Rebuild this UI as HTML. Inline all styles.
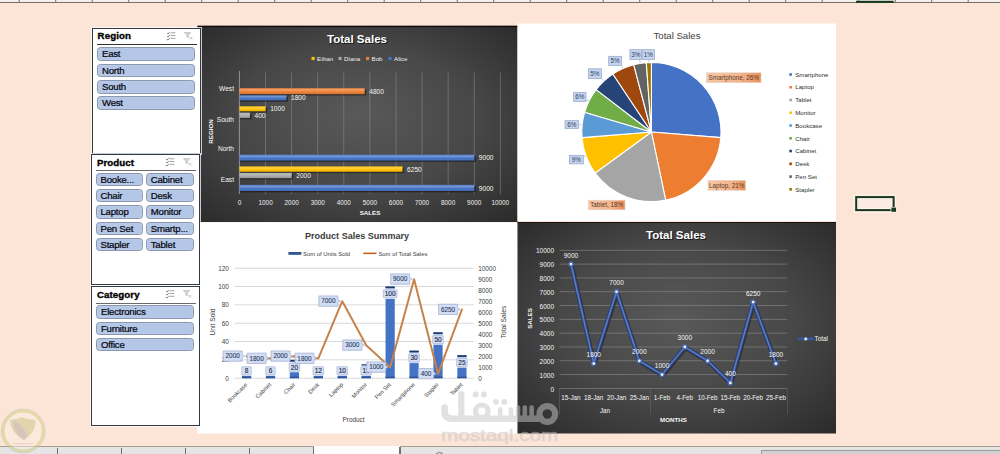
<!DOCTYPE html><html><head><meta charset="utf-8"><title>Dashboard</title><style>
html,body{margin:0;padding:0;}body{width:1000px;height:454px;overflow:hidden;background:#fce4d6;position:relative;font-family:"Liberation Sans", sans-serif;}
.abs{position:absolute;}
.sl{position:absolute;background:#fff;border:1.5px solid #2f3a45;box-sizing:border-box;z-index:2;box-shadow:0 0 0 1px rgba(255,255,255,0.75);}
.sl .t{position:absolute;left:4.6px;top:1.4px;font-weight:bold;font-size:9.7px;color:#000;-webkit-text-stroke:0.35px #000;letter-spacing:0.1px;}
.sl .u{position:absolute;left:4px;right:3px;height:1.4px;background:#333;}
.btn{position:absolute;z-index:3;box-sizing:border-box;background:#b4c7e7;border:1px solid #8a97ad;border-radius:3.5px;font-size:9.6px;line-height:11.6px;padding-left:3.8px;letter-spacing:-0.22px;color:#05050c;-webkit-text-stroke:0.22px #05050c;white-space:nowrap;overflow:hidden;box-shadow:inset 0 0 1px #dfe8f7;}
svg{position:absolute;left:0;top:0;}
svg text{font-family:"Liberation Sans", sans-serif;}
</style></head><body>
<div class="abs" style="left:0;top:0;width:1000px;height:3px;background:#f3efea;border-bottom:1px solid #7a7068;box-sizing:border-box"></div>
<div class="abs" style="left:0;top:446px;width:1000px;height:8px;background:#e5e5e5;border-top:1.2px solid #a79c91;box-sizing:border-box"></div>
<div class="abs" style="left:313.6px;top:446px;width:86.4px;height:8px;background:#fdfdfd;"></div>
<div class="abs" style="left:56.6px;top:448.2px;width:1.3px;height:6px;background:#6e6e6e;"></div>
<div class="abs" style="left:120.8px;top:448.2px;width:1.3px;height:6px;background:#6e6e6e;"></div>
<div class="abs" style="left:185px;top:448.2px;width:1.3px;height:6px;background:#6e6e6e;"></div>
<div class="abs" style="left:248.8px;top:448.2px;width:1.3px;height:6px;background:#6e6e6e;"></div>
<div class="abs" style="left:312.8px;top:447px;width:1.2px;height:7px;background:#707070;"></div>
<div class="abs" style="left:399.4px;top:447px;width:1.2px;height:7px;background:#707070;"></div>
<div class="abs" style="left:434.5px;top:451.6px;width:9px;height:9px;border:1px solid #777;border-radius:50%;box-sizing:border-box"></div>
<div class="abs" style="left:761px;top:449.5px;width:239px;height:5px;background:#d2d2d2;border-top:1px solid #9a9a9a;border-left:1px solid #9a9a9a"></div>
<div class="sl" style="left:92px;top:27.5px;width:108.5px;height:126px"><div class="t" style="top:1.4px">Region</div><div class="u" style="top:15.3px;background:#333"></div><svg style="left:73px;top:1.2px" width="30" height="12" viewBox="0 0 30 12"><g fill="none"><path d="M0.9 3.2L2.1 4L3.9 1.8M0.9 6.2L2.1 7L3.9 4.8M0.5 9.4L2.1 10L3.9 7.8" stroke="#8a8a8a" stroke-width="1"/><path d="M4.6 2.8H9.4M4.6 5.5H9.4M4.6 8.3H9.4" stroke="#a2a2a2" stroke-width="1"/></g><g stroke="#c4c4c4" stroke-width="0.9" fill="none"><path d="M18.3 2.6H24.7L22.4 5V7.4H21V5Z" fill="#d6d6d6"/><path d="M23.6 6.8L26.3 9.6M26.3 6.8L23.6 9.6"/></g></svg></div>
<div class="btn" style="left:97.2px;top:47.2px;width:97.8px;height:13.5px">East</div>
<div class="btn" style="left:97.2px;top:63.6px;width:97.8px;height:13.5px">North</div>
<div class="btn" style="left:97.2px;top:80px;width:97.8px;height:13.5px">South</div>
<div class="btn" style="left:97.2px;top:96.4px;width:97.8px;height:13.5px">West</div>
<div class="sl" style="left:91.3px;top:154.3px;width:108.5px;height:130.7px"><div class="t" style="top:1.4px">Product</div><div class="u" style="top:14.3px;background:#6a6a6a"></div><svg style="left:73px;top:1.2px" width="30" height="12" viewBox="0 0 30 12"><g fill="none"><path d="M0.9 3.2L2.1 4L3.9 1.8M0.9 6.2L2.1 7L3.9 4.8M0.5 9.4L2.1 10L3.9 7.8" stroke="#8a8a8a" stroke-width="1"/><path d="M4.6 2.8H9.4M4.6 5.5H9.4M4.6 8.3H9.4" stroke="#a2a2a2" stroke-width="1"/></g><g stroke="#c4c4c4" stroke-width="0.9" fill="none"><path d="M18.3 2.6H24.7L22.4 5V7.4H21V5Z" fill="#d6d6d6"/><path d="M23.6 6.8L26.3 9.6M26.3 6.8L23.6 9.6"/></g></svg></div>
<div class="btn" style="left:95.7px;top:172.5px;width:47.7px;height:13.5px">Booke...</div>
<div class="btn" style="left:146px;top:172.5px;width:47.5px;height:13.5px">Cabinet</div>
<div class="btn" style="left:95.7px;top:188.85px;width:47.7px;height:13.5px">Chair</div>
<div class="btn" style="left:146px;top:188.85px;width:47.5px;height:13.5px">Desk</div>
<div class="btn" style="left:95.7px;top:205.2px;width:47.7px;height:13.5px">Laptop</div>
<div class="btn" style="left:146px;top:205.2px;width:47.5px;height:13.5px">Monitor</div>
<div class="btn" style="left:95.7px;top:221.55px;width:47.7px;height:13.5px">Pen Set</div>
<div class="btn" style="left:146px;top:221.55px;width:47.5px;height:13.5px">Smartp...</div>
<div class="btn" style="left:95.7px;top:237.9px;width:47.7px;height:13.5px">Stapler</div>
<div class="btn" style="left:146px;top:237.9px;width:47.5px;height:13.5px">Tablet</div>
<div class="sl" style="left:91.3px;top:285.6px;width:108.9px;height:140.4px"><div class="t" style="top:2.5px">Category</div><div class="u" style="top:16px;background:#6a6a6a"></div><svg style="left:73px;top:1.2px" width="30" height="12" viewBox="0 0 30 12"><g fill="none"><path d="M0.9 3.2L2.1 4L3.9 1.8M0.9 6.2L2.1 7L3.9 4.8M0.5 9.4L2.1 10L3.9 7.8" stroke="#8a8a8a" stroke-width="1"/><path d="M4.6 2.8H9.4M4.6 5.5H9.4M4.6 8.3H9.4" stroke="#a2a2a2" stroke-width="1"/></g><g stroke="#c4c4c4" stroke-width="0.9" fill="none"><path d="M18.3 2.6H24.7L22.4 5V7.4H21V5Z" fill="#d6d6d6"/><path d="M23.6 6.8L26.3 9.6M26.3 6.8L23.6 9.6"/></g></svg></div>
<div class="btn" style="left:96.2px;top:305.2px;width:98px;height:13.5px">Electronics</div>
<div class="btn" style="left:96.2px;top:321.55px;width:98px;height:13.5px">Furniture</div>
<div class="btn" style="left:96.2px;top:337.9px;width:98px;height:13.5px">Office</div>
<svg width="1000" height="454" viewBox="0 0 1000 454">
<defs>
<radialGradient id="dk" cx="50%" cy="50%" r="75%" fx="50%" fy="45%">
<stop offset="0" stop-color="#595959"/><stop offset="0.5" stop-color="#474747"/><stop offset="1" stop-color="#272727"/></radialGradient>
<linearGradient id="dk2" x1="0" y1="0" x2="0" y2="1">
<stop offset="0" stop-color="#2d2d2d"/><stop offset="0.5" stop-color="#4a4a4a"/><stop offset="1" stop-color="#2a2a2a"/></linearGradient>
<linearGradient id="olab" x1="0" y1="0" x2="1" y2="0">
<stop offset="0" stop-color="#f6c7a6"/><stop offset="0.6" stop-color="#f3b58d"/><stop offset="1" stop-color="#e98f58"/></linearGradient>
<linearGradient id="hl" x1="0" y1="0" x2="0" y2="1"><stop offset="0" stop-color="#fff" stop-opacity="0.05"/><stop offset="0.3" stop-color="#fff" stop-opacity="0.28"/><stop offset="0.6" stop-color="#fff" stop-opacity="0"/><stop offset="1" stop-color="#000" stop-opacity="0.18"/></linearGradient>
</defs>
<rect x="18.7" y="0" width="1" height="3" fill="#7a7068"/>
<rect x="55.2" y="0" width="1" height="3" fill="#7a7068"/>
<rect x="91.7" y="0" width="1" height="3" fill="#7a7068"/>
<rect x="128.2" y="0" width="1" height="3" fill="#7a7068"/>
<rect x="164.7" y="0" width="1" height="3" fill="#7a7068"/>
<rect x="201.2" y="0" width="1" height="3" fill="#7a7068"/>
<rect x="237.7" y="0" width="1" height="3" fill="#7a7068"/>
<rect x="274.2" y="0" width="1" height="3" fill="#7a7068"/>
<rect x="310.7" y="0" width="1" height="3" fill="#7a7068"/>
<rect x="347.2" y="0" width="1" height="3" fill="#7a7068"/>
<rect x="383.7" y="0" width="1" height="3" fill="#7a7068"/>
<rect x="420.2" y="0" width="1" height="3" fill="#7a7068"/>
<rect x="456.7" y="0" width="1" height="3" fill="#7a7068"/>
<rect x="493.2" y="0" width="1" height="3" fill="#7a7068"/>
<rect x="529.7" y="0" width="1" height="3" fill="#7a7068"/>
<rect x="566.2" y="0" width="1" height="3" fill="#7a7068"/>
<rect x="602.7" y="0" width="1" height="3" fill="#7a7068"/>
<rect x="639.2" y="0" width="1" height="3" fill="#7a7068"/>
<rect x="675.7" y="0" width="1" height="3" fill="#7a7068"/>
<rect x="712.2" y="0" width="1" height="3" fill="#7a7068"/>
<rect x="748.7" y="0" width="1" height="3" fill="#7a7068"/>
<rect x="785.2" y="0" width="1" height="3" fill="#7a7068"/>
<rect x="821.7" y="0" width="1" height="3" fill="#7a7068"/>
<rect x="858.2" y="0" width="1" height="3" fill="#7a7068"/>
<rect x="894.7" y="0" width="1" height="3" fill="#7a7068"/>
<rect x="931.2" y="0" width="1" height="3" fill="#7a7068"/>
<rect x="967.7" y="0" width="1" height="3" fill="#7a7068"/>
<rect x="856" y="0.8" width="37.6" height="2.1" fill="#153a1d"/>
<rect x="197.5" y="25.8" width="320" height="196.2" fill="url(#dk)"/>
<rect x="197.5" y="25.8" width="320" height="1.3" fill="#0c0c0c"/>
<text x="358" y="44" font-size="11.5" font-weight="bold" fill="#111" opacity="0.8" text-anchor="middle">Total Sales</text>
<text x="357" y="43" font-size="11.5" font-weight="bold" fill="#fff" text-anchor="middle">Total Sales</text>
<rect x="311.5" y="56.9" width="3.2" height="3.2" fill="#ffc000"/>
<text x="317.1" y="60.9" font-size="6.15" fill="#f0f0f0">Ethan</text>
<rect x="338.5" y="56.9" width="3.2" height="3.2" fill="#a5a5a5"/>
<text x="344.1" y="60.9" font-size="6.15" fill="#f0f0f0">Diana</text>
<rect x="366" y="56.9" width="3.2" height="3.2" fill="#ed7d31"/>
<text x="371.6" y="60.9" font-size="6.15" fill="#f0f0f0">Bob</text>
<rect x="388.5" y="56.9" width="3.2" height="3.2" fill="#4472c4"/>
<text x="394.1" y="60.9" font-size="6.15" fill="#f0f0f0">Alice</text>
<rect x="265.18" y="72.5" width="0.8" height="121.5" fill="#9a9a9a" opacity="0.55"/>
<rect x="291.26" y="72.5" width="0.8" height="121.5" fill="#9a9a9a" opacity="0.55"/>
<rect x="317.34" y="72.5" width="0.8" height="121.5" fill="#9a9a9a" opacity="0.55"/>
<rect x="343.42" y="72.5" width="0.8" height="121.5" fill="#9a9a9a" opacity="0.55"/>
<rect x="369.5" y="72.5" width="0.8" height="121.5" fill="#9a9a9a" opacity="0.55"/>
<rect x="395.58" y="72.5" width="0.8" height="121.5" fill="#9a9a9a" opacity="0.55"/>
<rect x="421.66" y="72.5" width="0.8" height="121.5" fill="#9a9a9a" opacity="0.55"/>
<rect x="447.74" y="72.5" width="0.8" height="121.5" fill="#9a9a9a" opacity="0.55"/>
<rect x="473.82" y="72.5" width="0.8" height="121.5" fill="#9a9a9a" opacity="0.55"/>
<rect x="499.9" y="72.5" width="0.8" height="121.5" fill="#9a9a9a" opacity="0.55"/>
<rect x="238.9" y="71" width="1" height="123" fill="#a8a8a8" opacity="0.8"/>
<rect x="240.3" y="89.5" width="125.984" height="6" fill="#111" opacity="0.55"/>
<rect x="239.5" y="88.2" width="125.184" height="6" fill="#ed7d31"/>
<rect x="239.5" y="88.2" width="125.184" height="6" fill="url(#hl)"/>
<text x="369.284" y="93.8" font-size="6.6" fill="#f6f6f6">4800</text>
<rect x="240.3" y="96.5" width="47.744" height="5.2" fill="#111" opacity="0.55"/>
<rect x="239.5" y="95.2" width="46.944" height="5.2" fill="#4472c4"/>
<rect x="239.5" y="95.2" width="46.944" height="5.2" fill="url(#hl)"/>
<text x="291.044" y="100.4" font-size="6.6" fill="#f6f6f6">1800</text>
<rect x="240.3" y="107.6" width="26.88" height="5" fill="#111" opacity="0.55"/>
<rect x="239.5" y="106.3" width="26.08" height="5" fill="#ffc000"/>
<rect x="239.5" y="106.3" width="26.08" height="5" fill="url(#hl)"/>
<text x="270.18" y="111.4" font-size="6.6" fill="#f6f6f6">1000</text>
<rect x="240.3" y="113.9" width="11.232" height="5.4" fill="#111" opacity="0.55"/>
<rect x="239.5" y="112.6" width="10.432" height="5.4" fill="#a5a5a5"/>
<rect x="239.5" y="112.6" width="10.432" height="5.4" fill="url(#hl)"/>
<text x="254.532" y="117.9" font-size="6.6" fill="#f6f6f6">400</text>
<rect x="240.3" y="155.9" width="235.52" height="6" fill="#111" opacity="0.55"/>
<rect x="239.5" y="154.6" width="234.72" height="6" fill="#4472c4"/>
<rect x="239.5" y="154.6" width="234.72" height="6" fill="url(#hl)"/>
<text x="478.82" y="160.2" font-size="6.6" fill="#f6f6f6">9000</text>
<rect x="240.3" y="167.7" width="163.8" height="5.4" fill="#111" opacity="0.55"/>
<rect x="239.5" y="166.4" width="163" height="5.4" fill="#ffc000"/>
<rect x="239.5" y="166.4" width="163" height="5.4" fill="url(#hl)"/>
<text x="407.1" y="171.7" font-size="6.6" fill="#f6f6f6">6250</text>
<rect x="240.3" y="174.1" width="52.96" height="5.4" fill="#111" opacity="0.55"/>
<rect x="239.5" y="172.8" width="52.16" height="5.4" fill="#a5a5a5"/>
<rect x="239.5" y="172.8" width="52.16" height="5.4" fill="url(#hl)"/>
<text x="296.26" y="178.1" font-size="6.6" fill="#f6f6f6">2000</text>
<rect x="240.3" y="186.1" width="235.52" height="6.2" fill="#111" opacity="0.55"/>
<rect x="239.5" y="184.8" width="234.72" height="6.2" fill="#4472c4"/>
<rect x="239.5" y="184.8" width="234.72" height="6.2" fill="url(#hl)"/>
<text x="478.82" y="190.5" font-size="6.6" fill="#f6f6f6">9000</text>
<text x="234" y="90.5" font-size="6.6" fill="#f6f6f6" text-anchor="end">West</text>
<text x="234" y="121.6" font-size="6.6" fill="#f6f6f6" text-anchor="end">South</text>
<text x="234" y="150.9" font-size="6.6" fill="#f6f6f6" text-anchor="end">North</text>
<text x="234" y="181.5" font-size="6.6" fill="#f6f6f6" text-anchor="end">East</text>
<text x="239.5" y="205" font-size="6.4" fill="#f0f0f0" text-anchor="middle">0</text>
<text x="265.58" y="205" font-size="6.4" fill="#f0f0f0" text-anchor="middle">1000</text>
<text x="291.66" y="205" font-size="6.4" fill="#f0f0f0" text-anchor="middle">2000</text>
<text x="317.74" y="205" font-size="6.4" fill="#f0f0f0" text-anchor="middle">3000</text>
<text x="343.82" y="205" font-size="6.4" fill="#f0f0f0" text-anchor="middle">4000</text>
<text x="369.9" y="205" font-size="6.4" fill="#f0f0f0" text-anchor="middle">5000</text>
<text x="395.98" y="205" font-size="6.4" fill="#f0f0f0" text-anchor="middle">6000</text>
<text x="422.06" y="205" font-size="6.4" fill="#f0f0f0" text-anchor="middle">7000</text>
<text x="448.14" y="205" font-size="6.4" fill="#f0f0f0" text-anchor="middle">8000</text>
<text x="474.22" y="205" font-size="6.4" fill="#f0f0f0" text-anchor="middle">9000</text>
<text x="500.3" y="205" font-size="6.4" fill="#f0f0f0" text-anchor="middle">10000</text>
<text x="370" y="214.8" font-size="6.2" font-weight="bold" fill="#f6f6f6" text-anchor="middle">SALES</text>
<text transform="translate(212.8,131.5) rotate(-90)" font-size="6.2" font-weight="bold" fill="#f6f6f6" text-anchor="middle">REGION</text>
<rect x="517.5" y="23.5" width="318.5" height="197.5" fill="#fff"/>
<text x="677" y="39.2" font-size="9.6" fill="#404040" text-anchor="middle">Total Sales</text>
<path d="M651.4 132 L651.4 62.4 A69.6 69.6 0 0 1 720.776 137.58 Z" fill="#4472c4" stroke="#fff" stroke-width="1.1" stroke-linejoin="round"/>
<path d="M651.4 132 L720.776 137.58 A69.6 69.6 0 0 1 665.662 200.123 Z" fill="#ed7d31" stroke="#fff" stroke-width="1.1" stroke-linejoin="round"/>
<path d="M651.4 132 L665.662 200.123 A69.6 69.6 0 0 1 595.186 173.039 Z" fill="#a5a5a5" stroke="#fff" stroke-width="1.1" stroke-linejoin="round"/>
<path d="M651.4 132 L595.186 173.039 A69.6 69.6 0 0 1 582.024 137.58 Z" fill="#ffc000" stroke="#fff" stroke-width="1.1" stroke-linejoin="round"/>
<path d="M651.4 132 L582.024 137.58 A69.6 69.6 0 0 1 584.64 112.322 Z" fill="#5b9bd5" stroke="#fff" stroke-width="1.1" stroke-linejoin="round"/>
<path d="M651.4 132 L584.64 112.322 A69.6 69.6 0 0 1 596.142 89.683 Z" fill="#70ad47" stroke="#fff" stroke-width="1.1" stroke-linejoin="round"/>
<path d="M651.4 132 L596.142 89.683 A69.6 69.6 0 0 1 612.849 74.0522 Z" fill="#264478" stroke="#fff" stroke-width="1.1" stroke-linejoin="round"/>
<path d="M651.4 132 L612.849 74.0522 A69.6 69.6 0 0 1 633.72 64.6829 Z" fill="#9e480e" stroke="#fff" stroke-width="1.1" stroke-linejoin="round"/>
<path d="M651.4 132 L633.72 64.6829 A69.6 69.6 0 0 1 646.297 62.5873 Z" fill="#636363" stroke="#fff" stroke-width="1.1" stroke-linejoin="round"/>
<path d="M651.4 132 L646.297 62.5873 A69.6 69.6 0 0 1 651.4 62.4 Z" fill="#997300" stroke="#fff" stroke-width="1.1" stroke-linejoin="round"/>
<rect x="789.3" y="73.2" width="2.6" height="2.6" fill="#4472c4"/>
<text x="795.3" y="76.7" font-size="6.1" fill="#2e2e2e">Smartphone</text>
<rect x="789.3" y="85.96" width="2.6" height="2.6" fill="#ed7d31"/>
<text x="795.3" y="89.46" font-size="6.1" fill="#2e2e2e">Laptop</text>
<rect x="789.3" y="98.72" width="2.6" height="2.6" fill="#a5a5a5"/>
<text x="795.3" y="102.22" font-size="6.1" fill="#2e2e2e">Tablet</text>
<rect x="789.3" y="111.48" width="2.6" height="2.6" fill="#ffc000"/>
<text x="795.3" y="114.98" font-size="6.1" fill="#2e2e2e">Monitor</text>
<rect x="789.3" y="124.24" width="2.6" height="2.6" fill="#5b9bd5"/>
<text x="795.3" y="127.74" font-size="6.1" fill="#2e2e2e">Bookcase</text>
<rect x="789.3" y="137" width="2.6" height="2.6" fill="#70ad47"/>
<text x="795.3" y="140.5" font-size="6.1" fill="#2e2e2e">Chair</text>
<rect x="789.3" y="149.76" width="2.6" height="2.6" fill="#264478"/>
<text x="795.3" y="153.26" font-size="6.1" fill="#2e2e2e">Cabinet</text>
<rect x="789.3" y="162.52" width="2.6" height="2.6" fill="#9e480e"/>
<text x="795.3" y="166.02" font-size="6.1" fill="#2e2e2e">Desk</text>
<rect x="789.3" y="175.28" width="2.6" height="2.6" fill="#636363"/>
<text x="795.3" y="178.78" font-size="6.1" fill="#2e2e2e">Pen Set</text>
<rect x="789.3" y="188.04" width="2.6" height="2.6" fill="#997300"/>
<text x="795.3" y="191.54" font-size="6.1" fill="#2e2e2e">Stapler</text>
<rect x="706.5" y="72.8" width="54.5" height="9.9" fill="url(#olab)" stroke="#e3d3c8" stroke-width="0.6"/>
<text x="733.75" y="80.05" font-size="6.3" fill="#5a3a28" text-anchor="middle">Smartphone, 26%</text>
<rect x="708" y="180.4" width="37.5" height="9.9" fill="url(#olab)" stroke="#e3d3c8" stroke-width="0.6"/>
<text x="726.75" y="187.65" font-size="6.3" fill="#5a3a28" text-anchor="middle">Laptop, 21%</text>
<rect x="588.3" y="200.2" width="36.7" height="9.6" fill="url(#olab)" stroke="#e3d3c8" stroke-width="0.6"/>
<text x="606.65" y="207.3" font-size="6.3" fill="#5a3a28" text-anchor="middle">Tablet, 18%</text>
<path d="M583.3 156.325 L585.869 156.325" stroke="#a6a6a6" stroke-width="0.6" fill="none"/>
<path d="M578.4 124.8 L581.872 124.8" stroke="#a6a6a6" stroke-width="0.6" fill="none"/>
<path d="M586 100.337 L589.082 100.337" stroke="#a6a6a6" stroke-width="0.6" fill="none"/>
<path d="M601.5 78.4 L603.644 80.9574" stroke="#a6a6a6" stroke-width="0.6" fill="none"/>
<path d="M621.6 65.5 L622.774 68.2304" stroke="#a6a6a6" stroke-width="0.6" fill="none"/>
<path d="M639.911 59.6 L639.911 63.0506" stroke="#a6a6a6" stroke-width="0.6" fill="none"/>
<path d="M648.836 59.6 L648.836 62.147" stroke="#a6a6a6" stroke-width="0.6" fill="none"/>
<rect x="569.5" y="155.3" width="13.8" height="8.6" fill="#c6d3ec" stroke="#8fa4cc" stroke-width="0.7"/>
<text x="576.4" y="161.9" font-size="6.3" fill="#2b3f66" text-anchor="middle">9%</text>
<rect x="565" y="120.7" width="13.4" height="7.7" fill="#c6d3ec" stroke="#8fa4cc" stroke-width="0.7"/>
<text x="571.7" y="126.85" font-size="6.3" fill="#2b3f66" text-anchor="middle">6%</text>
<rect x="573.7" y="92.6" width="12.3" height="8.9" fill="#c6d3ec" stroke="#8fa4cc" stroke-width="0.7"/>
<text x="579.85" y="99.35" font-size="6.3" fill="#2b3f66" text-anchor="middle">6%</text>
<rect x="588.3" y="68.8" width="13.2" height="9.6" fill="#c6d3ec" stroke="#8fa4cc" stroke-width="0.7"/>
<text x="594.9" y="75.9" font-size="6.3" fill="#2b3f66" text-anchor="middle">5%</text>
<rect x="608.7" y="56.3" width="12.9" height="9.2" fill="#c6d3ec" stroke="#8fa4cc" stroke-width="0.7"/>
<text x="615.15" y="63.2" font-size="6.3" fill="#2b3f66" text-anchor="middle">5%</text>
<rect x="629.9" y="49.7" width="11.7" height="9.9" fill="#c6d3ec" stroke="#8fa4cc" stroke-width="0.7"/>
<text x="635.75" y="56.95" font-size="6.3" fill="#2b3f66" text-anchor="middle">3%</text>
<rect x="642.2" y="49.7" width="12.4" height="9.9" fill="#c6d3ec" stroke="#8fa4cc" stroke-width="0.7"/>
<text x="648.4" y="56.95" font-size="6.3" fill="#2b3f66" text-anchor="middle">1%</text>
<rect x="197.3" y="222.4" width="320.2" height="211.1" fill="#fff"/>
<text x="357" y="239.2" font-size="9.05" font-weight="bold" fill="#3b3b3b" text-anchor="middle">Product Sales Summary</text>
<rect x="288.4" y="252" width="13" height="2.8" fill="#2f5597"/>
<text x="303" y="255.6" font-size="5.9" fill="#404040">Sum of Units Sold</text>
<rect x="363.3" y="252.6" width="13.2" height="1.5" fill="#c55a11"/>
<text x="378.4" y="255.6" font-size="5.9" fill="#404040">Sum of Total Sales</text>
<rect x="234.6" y="377.8" width="239.3" height="0.8" fill="#d0d0d0"/>
<text x="228.8" y="380.5" font-size="6.4" fill="#404040" text-anchor="end">0</text>
<rect x="234.6" y="359.467" width="239.3" height="0.8" fill="#d0d0d0"/>
<text x="228.8" y="362.167" font-size="6.4" fill="#404040" text-anchor="end">20</text>
<rect x="234.6" y="341.133" width="239.3" height="0.8" fill="#d0d0d0"/>
<text x="228.8" y="343.833" font-size="6.4" fill="#404040" text-anchor="end">40</text>
<rect x="234.6" y="322.8" width="239.3" height="0.8" fill="#d0d0d0"/>
<text x="228.8" y="325.5" font-size="6.4" fill="#404040" text-anchor="end">60</text>
<rect x="234.6" y="304.467" width="239.3" height="0.8" fill="#d0d0d0"/>
<text x="228.8" y="307.167" font-size="6.4" fill="#404040" text-anchor="end">80</text>
<rect x="234.6" y="286.133" width="239.3" height="0.8" fill="#d0d0d0"/>
<text x="228.8" y="288.833" font-size="6.4" fill="#404040" text-anchor="end">100</text>
<rect x="234.6" y="267.8" width="239.3" height="0.8" fill="#d0d0d0"/>
<text x="228.8" y="270.5" font-size="6.4" fill="#404040" text-anchor="end">120</text>
<text x="478.2" y="380.5" font-size="6.4" fill="#404040">0</text>
<text x="478.2" y="369.5" font-size="6.4" fill="#404040">1000</text>
<text x="478.2" y="358.5" font-size="6.4" fill="#404040">2000</text>
<text x="478.2" y="347.5" font-size="6.4" fill="#404040">3000</text>
<text x="478.2" y="336.5" font-size="6.4" fill="#404040">4000</text>
<text x="478.2" y="325.5" font-size="6.4" fill="#404040">5000</text>
<text x="478.2" y="314.5" font-size="6.4" fill="#404040">6000</text>
<text x="478.2" y="303.5" font-size="6.4" fill="#404040">7000</text>
<text x="478.2" y="292.5" font-size="6.4" fill="#404040">8000</text>
<text x="478.2" y="281.5" font-size="6.4" fill="#404040">9000</text>
<text x="478.2" y="270.5" font-size="6.4" fill="#404040">10000</text>
<rect x="241.965" y="370.867" width="9.2" height="7.33333" fill="#4472c4"/>
<rect x="241.965" y="370.867" width="9.2" height="1.5" fill="#1f3864"/>
<rect x="241.965" y="376.6" width="9.2" height="1.6" fill="#2f5597"/>
<rect x="265.895" y="372.7" width="9.2" height="5.5" fill="#4472c4"/>
<rect x="265.895" y="372.7" width="9.2" height="1.5" fill="#1f3864"/>
<rect x="265.895" y="376.6" width="9.2" height="1.6" fill="#2f5597"/>
<rect x="289.825" y="359.867" width="9.2" height="18.3333" fill="#4472c4"/>
<rect x="289.825" y="359.867" width="9.2" height="1.5" fill="#1f3864"/>
<rect x="289.825" y="376.6" width="9.2" height="1.6" fill="#2f5597"/>
<rect x="313.755" y="367.2" width="9.2" height="11" fill="#4472c4"/>
<rect x="313.755" y="367.2" width="9.2" height="1.5" fill="#1f3864"/>
<rect x="313.755" y="376.6" width="9.2" height="1.6" fill="#2f5597"/>
<rect x="337.685" y="369.033" width="9.2" height="9.16667" fill="#4472c4"/>
<rect x="337.685" y="369.033" width="9.2" height="1.5" fill="#1f3864"/>
<rect x="337.685" y="376.6" width="9.2" height="1.6" fill="#2f5597"/>
<rect x="361.615" y="364.45" width="9.2" height="13.75" fill="#4472c4"/>
<rect x="361.615" y="364.45" width="9.2" height="1.5" fill="#1f3864"/>
<rect x="361.615" y="376.6" width="9.2" height="1.6" fill="#2f5597"/>
<rect x="385.545" y="286.533" width="9.2" height="91.6667" fill="#4472c4"/>
<rect x="385.545" y="286.533" width="9.2" height="1.5" fill="#1f3864"/>
<rect x="385.545" y="376.6" width="9.2" height="1.6" fill="#2f5597"/>
<rect x="409.475" y="350.7" width="9.2" height="27.5" fill="#4472c4"/>
<rect x="409.475" y="350.7" width="9.2" height="1.5" fill="#1f3864"/>
<rect x="409.475" y="376.6" width="9.2" height="1.6" fill="#2f5597"/>
<rect x="433.405" y="332.367" width="9.2" height="45.8333" fill="#4472c4"/>
<rect x="433.405" y="332.367" width="9.2" height="1.5" fill="#1f3864"/>
<rect x="433.405" y="376.6" width="9.2" height="1.6" fill="#2f5597"/>
<rect x="457.335" y="355.283" width="9.2" height="22.9167" fill="#4472c4"/>
<rect x="457.335" y="355.283" width="9.2" height="1.5" fill="#1f3864"/>
<rect x="457.335" y="376.6" width="9.2" height="1.6" fill="#2f5597"/>
<polyline points="246.565,356.2 270.495,358.4 294.425,356.2 318.355,358.4 342.285,301.2 366.215,345.2 390.145,367.2 414.075,279.2 438.005,373.8 461.935,309.45" fill="none" stroke="#c6824a" stroke-width="2" stroke-linejoin="round" stroke-linecap="round"/>
<rect x="240.765" y="365.5" width="11.6" height="10.4" fill="#fff" opacity="0.92"/>
<rect x="241.865" y="366.7" width="9.4" height="8.2" rx="0.6" fill="#d6e0f3" stroke="#9fb3d9" stroke-width="0.7"/>
<text x="246.565" y="373.2" font-size="6.5" fill="#1b2a4e" stroke="#1b2a4e" stroke-width="0.15" text-anchor="middle">8</text>
<rect x="264.695" y="365.5" width="11.6" height="10.4" fill="#fff" opacity="0.92"/>
<rect x="265.795" y="366.7" width="9.4" height="8.2" rx="0.6" fill="#d6e0f3" stroke="#9fb3d9" stroke-width="0.7"/>
<text x="270.495" y="373.2" font-size="6.5" fill="#1b2a4e" stroke="#1b2a4e" stroke-width="0.15" text-anchor="middle">6</text>
<rect x="288.025" y="361.867" width="12.8" height="10.4" fill="#fff" opacity="0.92"/>
<rect x="289.125" y="363.067" width="10.6" height="8.2" rx="0.6" fill="#d6e0f3" stroke="#9fb3d9" stroke-width="0.7"/>
<text x="294.425" y="369.567" font-size="6.5" fill="#1b2a4e" stroke="#1b2a4e" stroke-width="0.15" text-anchor="middle">20</text>
<rect x="311.955" y="365.5" width="12.8" height="10.4" fill="#fff" opacity="0.92"/>
<rect x="313.055" y="366.7" width="10.6" height="8.2" rx="0.6" fill="#d6e0f3" stroke="#9fb3d9" stroke-width="0.7"/>
<text x="318.355" y="373.2" font-size="6.5" fill="#1b2a4e" stroke="#1b2a4e" stroke-width="0.15" text-anchor="middle">12</text>
<rect x="335.885" y="365.5" width="12.8" height="10.4" fill="#fff" opacity="0.92"/>
<rect x="336.985" y="366.7" width="10.6" height="8.2" rx="0.6" fill="#d6e0f3" stroke="#9fb3d9" stroke-width="0.7"/>
<text x="342.285" y="373.2" font-size="6.5" fill="#1b2a4e" stroke="#1b2a4e" stroke-width="0.15" text-anchor="middle">10</text>
<rect x="359.815" y="365.5" width="12.8" height="10.4" fill="#fff" opacity="0.92"/>
<rect x="360.915" y="366.7" width="10.6" height="8.2" rx="0.6" fill="#d6e0f3" stroke="#9fb3d9" stroke-width="0.7"/>
<text x="366.215" y="373.2" font-size="6.5" fill="#1b2a4e" stroke="#1b2a4e" stroke-width="0.15" text-anchor="middle">15</text>
<rect x="382.245" y="288.533" width="15.8" height="10.4" fill="#fff" opacity="0.92"/>
<rect x="383.345" y="289.733" width="13.6" height="8.2" rx="0.6" fill="#d6e0f3" stroke="#9fb3d9" stroke-width="0.7"/>
<text x="390.145" y="296.233" font-size="6.5" fill="#1b2a4e" stroke="#1b2a4e" stroke-width="0.15" text-anchor="middle">100</text>
<rect x="407.675" y="352.7" width="12.8" height="10.4" fill="#fff" opacity="0.92"/>
<rect x="408.775" y="353.9" width="10.6" height="8.2" rx="0.6" fill="#d6e0f3" stroke="#9fb3d9" stroke-width="0.7"/>
<text x="414.075" y="360.4" font-size="6.5" fill="#1b2a4e" stroke="#1b2a4e" stroke-width="0.15" text-anchor="middle">30</text>
<rect x="431.605" y="334.367" width="12.8" height="10.4" fill="#fff" opacity="0.92"/>
<rect x="432.705" y="335.567" width="10.6" height="8.2" rx="0.6" fill="#d6e0f3" stroke="#9fb3d9" stroke-width="0.7"/>
<text x="438.005" y="342.067" font-size="6.5" fill="#1b2a4e" stroke="#1b2a4e" stroke-width="0.15" text-anchor="middle">50</text>
<rect x="455.535" y="357.283" width="12.8" height="10.4" fill="#fff" opacity="0.92"/>
<rect x="456.635" y="358.483" width="10.6" height="8.2" rx="0.6" fill="#d6e0f3" stroke="#9fb3d9" stroke-width="0.7"/>
<text x="461.935" y="364.983" font-size="6.5" fill="#1b2a4e" stroke="#1b2a4e" stroke-width="0.15" text-anchor="middle">25</text>
<path d="M223.165 350.95 L242.165 350.95 L242.165 354.6 L244.665 356.1 L242.165 357.6 L242.165 361.25 L223.165 361.25 Z" fill="#d3def2" stroke="#98abd2" stroke-width="0.7"/>
<text x="232.665" y="358.4" font-size="6.4" fill="#2c3f69" stroke="#2c3f69" stroke-width="0.12" text-anchor="middle">2000</text>
<path d="M247.095 353.15 L266.095 353.15 L266.095 356.8 L268.595 358.3 L266.095 359.8 L266.095 363.45 L247.095 363.45 Z" fill="#d3def2" stroke="#98abd2" stroke-width="0.7"/>
<text x="256.595" y="360.6" font-size="6.4" fill="#2c3f69" stroke="#2c3f69" stroke-width="0.12" text-anchor="middle">1800</text>
<path d="M271.025 350.95 L290.025 350.95 L290.025 354.6 L292.525 356.1 L290.025 357.6 L290.025 361.25 L271.025 361.25 Z" fill="#d3def2" stroke="#98abd2" stroke-width="0.7"/>
<text x="280.525" y="358.4" font-size="6.4" fill="#2c3f69" stroke="#2c3f69" stroke-width="0.12" text-anchor="middle">2000</text>
<path d="M294.955 353.15 L313.955 353.15 L313.955 356.8 L316.455 358.3 L313.955 359.8 L313.955 363.45 L294.955 363.45 Z" fill="#d3def2" stroke="#98abd2" stroke-width="0.7"/>
<text x="304.455" y="360.6" font-size="6.4" fill="#2c3f69" stroke="#2c3f69" stroke-width="0.12" text-anchor="middle">1800</text>
<path d="M318.885 295.95 L337.885 295.95 L337.885 299.6 L340.385 301.1 L337.885 302.6 L337.885 306.25 L318.885 306.25 Z" fill="#d3def2" stroke="#98abd2" stroke-width="0.7"/>
<text x="328.385" y="303.4" font-size="6.4" fill="#2c3f69" stroke="#2c3f69" stroke-width="0.12" text-anchor="middle">7000</text>
<path d="M342.815 339.95 L361.815 339.95 L361.815 343.6 L364.315 345.1 L361.815 346.6 L361.815 350.25 L342.815 350.25 Z" fill="#d3def2" stroke="#98abd2" stroke-width="0.7"/>
<text x="352.315" y="347.4" font-size="6.4" fill="#2c3f69" stroke="#2c3f69" stroke-width="0.12" text-anchor="middle">3000</text>
<path d="M366.745 361.95 L385.745 361.95 L385.745 365.6 L388.245 367.1 L385.745 368.6 L385.745 372.25 L366.745 372.25 Z" fill="#d3def2" stroke="#98abd2" stroke-width="0.7"/>
<text x="376.245" y="369.4" font-size="6.4" fill="#2c3f69" stroke="#2c3f69" stroke-width="0.12" text-anchor="middle">1000</text>
<path d="M390.675 273.95 L409.675 273.95 L409.675 277.6 L412.175 279.1 L409.675 280.6 L409.675 284.25 L390.675 284.25 Z" fill="#d3def2" stroke="#98abd2" stroke-width="0.7"/>
<text x="400.175" y="281.4" font-size="6.4" fill="#2c3f69" stroke="#2c3f69" stroke-width="0.12" text-anchor="middle">9000</text>
<path d="M418.405 368.55 L433.605 368.55 L433.605 372.2 L436.105 373.7 L433.605 375.2 L433.605 378.85 L418.405 378.85 Z" fill="#d3def2" stroke="#98abd2" stroke-width="0.7"/>
<text x="426.005" y="376" font-size="6.4" fill="#2c3f69" stroke="#2c3f69" stroke-width="0.12" text-anchor="middle">400</text>
<path d="M438.535 304.2 L457.535 304.2 L457.535 307.85 L460.035 309.35 L457.535 310.85 L457.535 314.5 L438.535 314.5 Z" fill="#d3def2" stroke="#98abd2" stroke-width="0.7"/>
<text x="448.035" y="311.65" font-size="6.4" fill="#2c3f69" stroke="#2c3f69" stroke-width="0.12" text-anchor="middle">6250</text>
<text transform="translate(247.765,385) rotate(-45)" font-size="5.7" fill="#404040" text-anchor="end">Bookcase</text>
<text transform="translate(271.695,385) rotate(-45)" font-size="5.7" fill="#404040" text-anchor="end">Cabinet</text>
<text transform="translate(295.625,385) rotate(-45)" font-size="5.7" fill="#404040" text-anchor="end">Chair</text>
<text transform="translate(319.555,385) rotate(-45)" font-size="5.7" fill="#404040" text-anchor="end">Desk</text>
<text transform="translate(343.485,385) rotate(-45)" font-size="5.7" fill="#404040" text-anchor="end">Laptop</text>
<text transform="translate(367.415,385) rotate(-45)" font-size="5.7" fill="#404040" text-anchor="end">Monitor</text>
<text transform="translate(391.345,385) rotate(-45)" font-size="5.7" fill="#404040" text-anchor="end">Pen Set</text>
<text transform="translate(415.275,385) rotate(-45)" font-size="5.7" fill="#404040" text-anchor="end">Smartphone</text>
<text transform="translate(439.205,385) rotate(-45)" font-size="5.7" fill="#404040" text-anchor="end">Stapler</text>
<text transform="translate(463.135,385) rotate(-45)" font-size="5.7" fill="#404040" text-anchor="end">Tablet</text>
<text x="353.5" y="421.6" font-size="6.4" fill="#404040" text-anchor="middle">Product</text>
<text transform="translate(215.3,322) rotate(-90)" font-size="6.7" fill="#404040" text-anchor="middle">Unit Sold</text>
<text transform="translate(506.2,322) rotate(-90)" font-size="6.7" fill="#404040" text-anchor="middle">Total Sales</text>
<rect x="517.5" y="222" width="318.5" height="211.5" fill="url(#dk)"/>
<rect x="517.5" y="222" width="318.5" height="1" fill="#151515"/>
<text x="677" y="239.6" font-size="11.5" font-weight="bold" fill="#111" opacity="0.8" text-anchor="middle">Total Sales</text>
<text x="676" y="238.6" font-size="11.5" font-weight="bold" fill="#fff" text-anchor="middle">Total Sales</text>
<rect x="559.6" y="387.95" width="227.7" height="0.9" fill="#909090" opacity="0.62"/>
<text x="554" y="391.5" font-size="6.5" fill="#f6f6f6" text-anchor="end">0</text>
<rect x="559.6" y="374.14" width="227.7" height="0.9" fill="#909090" opacity="0.62"/>
<text x="554" y="377.69" font-size="6.5" fill="#f6f6f6" text-anchor="end">1000</text>
<rect x="559.6" y="360.33" width="227.7" height="0.9" fill="#909090" opacity="0.62"/>
<text x="554" y="363.88" font-size="6.5" fill="#f6f6f6" text-anchor="end">2000</text>
<rect x="559.6" y="346.52" width="227.7" height="0.9" fill="#909090" opacity="0.62"/>
<text x="554" y="350.07" font-size="6.5" fill="#f6f6f6" text-anchor="end">3000</text>
<rect x="559.6" y="332.71" width="227.7" height="0.9" fill="#909090" opacity="0.62"/>
<text x="554" y="336.26" font-size="6.5" fill="#f6f6f6" text-anchor="end">4000</text>
<rect x="559.6" y="318.9" width="227.7" height="0.9" fill="#909090" opacity="0.62"/>
<text x="554" y="322.45" font-size="6.5" fill="#f6f6f6" text-anchor="end">5000</text>
<rect x="559.6" y="305.09" width="227.7" height="0.9" fill="#909090" opacity="0.62"/>
<text x="554" y="308.64" font-size="6.5" fill="#f6f6f6" text-anchor="end">6000</text>
<rect x="559.6" y="291.28" width="227.7" height="0.9" fill="#909090" opacity="0.62"/>
<text x="554" y="294.83" font-size="6.5" fill="#f6f6f6" text-anchor="end">7000</text>
<rect x="559.6" y="277.47" width="227.7" height="0.9" fill="#909090" opacity="0.62"/>
<text x="554" y="281.02" font-size="6.5" fill="#f6f6f6" text-anchor="end">8000</text>
<rect x="559.6" y="263.66" width="227.7" height="0.9" fill="#909090" opacity="0.62"/>
<text x="554" y="267.21" font-size="6.5" fill="#f6f6f6" text-anchor="end">9000</text>
<rect x="559.6" y="249.85" width="227.7" height="0.9" fill="#909090" opacity="0.62"/>
<text x="554" y="253.4" font-size="6.5" fill="#f6f6f6" text-anchor="end">10000</text>
<polyline points="570.985,264.11 593.755,363.542 616.525,291.73 639.295,360.78 662.065,374.59 684.835,346.97 707.605,360.78 730.375,382.876 753.145,302.087 775.915,363.542" fill="none" stroke="#141414" stroke-width="4" stroke-linejoin="round" opacity="0.45" transform="translate(0.8,1.3)"/>
<polyline points="570.985,264.11 593.755,363.542 616.525,291.73 639.295,360.78 662.065,374.59 684.835,346.97 707.605,360.78 730.375,382.876 753.145,302.087 775.915,363.542" fill="none" stroke="#253a70" stroke-width="3.9" stroke-linejoin="round" stroke-linecap="round"/>
<polyline points="570.985,264.11 593.755,363.542 616.525,291.73 639.295,360.78 662.065,374.59 684.835,346.97 707.605,360.78 730.375,382.876 753.145,302.087 775.915,363.542" fill="none" stroke="#3f5c9f" stroke-width="2.4" stroke-linejoin="round" stroke-linecap="round"/>
<polyline points="570.985,264.11 593.755,363.542 616.525,291.73 639.295,360.78 662.065,374.59 684.835,346.97 707.605,360.78 730.375,382.876 753.145,302.087 775.915,363.542" fill="none" stroke="#6584c4" stroke-width="1" stroke-linejoin="round" stroke-linecap="round"/>
<circle cx="570.985" cy="264.11" r="2.9" fill="#4a6ab0" opacity="0.9"/>
<circle cx="570.985" cy="264.11" r="1.35" fill="#f4f7ff"/>
<text x="570.985" y="257.61" font-size="6.5" fill="#f6f6f6" text-anchor="middle">9000</text>
<circle cx="593.755" cy="363.542" r="2.9" fill="#4a6ab0" opacity="0.9"/>
<circle cx="593.755" cy="363.542" r="1.35" fill="#f4f7ff"/>
<text x="593.755" y="357.042" font-size="6.5" fill="#f6f6f6" text-anchor="middle">1800</text>
<circle cx="616.525" cy="291.73" r="2.9" fill="#4a6ab0" opacity="0.9"/>
<circle cx="616.525" cy="291.73" r="1.35" fill="#f4f7ff"/>
<text x="616.525" y="285.23" font-size="6.5" fill="#f6f6f6" text-anchor="middle">7000</text>
<circle cx="639.295" cy="360.78" r="2.9" fill="#4a6ab0" opacity="0.9"/>
<circle cx="639.295" cy="360.78" r="1.35" fill="#f4f7ff"/>
<text x="639.295" y="354.28" font-size="6.5" fill="#f6f6f6" text-anchor="middle">2000</text>
<circle cx="662.065" cy="374.59" r="2.9" fill="#4a6ab0" opacity="0.9"/>
<circle cx="662.065" cy="374.59" r="1.35" fill="#f4f7ff"/>
<text x="662.065" y="368.09" font-size="6.5" fill="#f6f6f6" text-anchor="middle">1000</text>
<circle cx="684.835" cy="346.97" r="2.9" fill="#4a6ab0" opacity="0.9"/>
<circle cx="684.835" cy="346.97" r="1.35" fill="#f4f7ff"/>
<text x="684.835" y="340.47" font-size="6.5" fill="#f6f6f6" text-anchor="middle">3000</text>
<circle cx="707.605" cy="360.78" r="2.9" fill="#4a6ab0" opacity="0.9"/>
<circle cx="707.605" cy="360.78" r="1.35" fill="#f4f7ff"/>
<text x="707.605" y="354.28" font-size="6.5" fill="#f6f6f6" text-anchor="middle">2000</text>
<circle cx="730.375" cy="382.876" r="2.9" fill="#4a6ab0" opacity="0.9"/>
<circle cx="730.375" cy="382.876" r="1.35" fill="#f4f7ff"/>
<text x="730.375" y="376.376" font-size="6.5" fill="#f6f6f6" text-anchor="middle">400</text>
<circle cx="753.145" cy="302.087" r="2.9" fill="#4a6ab0" opacity="0.9"/>
<circle cx="753.145" cy="302.087" r="1.35" fill="#f4f7ff"/>
<text x="753.145" y="295.587" font-size="6.5" fill="#f6f6f6" text-anchor="middle">6250</text>
<circle cx="775.915" cy="363.542" r="2.9" fill="#4a6ab0" opacity="0.9"/>
<circle cx="775.915" cy="363.542" r="1.35" fill="#f4f7ff"/>
<text x="775.915" y="357.042" font-size="6.5" fill="#f6f6f6" text-anchor="middle">1800</text>
<text x="570.985" y="399.6" font-size="6.3" fill="#f6f6f6" text-anchor="middle">15-Jan</text>
<text x="593.755" y="399.6" font-size="6.3" fill="#f6f6f6" text-anchor="middle">18-Jan</text>
<text x="616.525" y="399.6" font-size="6.3" fill="#f6f6f6" text-anchor="middle">20-Jan</text>
<text x="639.295" y="399.6" font-size="6.3" fill="#f6f6f6" text-anchor="middle">25-Jan</text>
<text x="662.065" y="399.6" font-size="6.3" fill="#f6f6f6" text-anchor="middle">1-Feb</text>
<text x="684.835" y="399.6" font-size="6.3" fill="#f6f6f6" text-anchor="middle">4-Feb</text>
<text x="707.605" y="399.6" font-size="6.3" fill="#f6f6f6" text-anchor="middle">10-Feb</text>
<text x="730.375" y="399.6" font-size="6.3" fill="#f6f6f6" text-anchor="middle">15-Feb</text>
<text x="753.145" y="399.6" font-size="6.3" fill="#f6f6f6" text-anchor="middle">20-Feb</text>
<text x="775.915" y="399.6" font-size="6.3" fill="#f6f6f6" text-anchor="middle">25-Feb</text>
<rect x="559.25" y="388.4" width="0.7" height="26" fill="#7a7a7a" opacity="0.55"/>
<rect x="650.33" y="388.4" width="0.7" height="26" fill="#7a7a7a" opacity="0.55"/>
<rect x="786.95" y="388.4" width="0.7" height="26" fill="#7a7a7a" opacity="0.55"/>
<text x="605" y="412.8" font-size="6.3" fill="#f6f6f6" text-anchor="middle">Jan</text>
<text x="719" y="412.8" font-size="6.3" fill="#f6f6f6" text-anchor="middle">Feb</text>
<text x="673.5" y="422" font-size="6.2" font-weight="bold" fill="#f6f6f6" text-anchor="middle">MONTHS</text>
<text transform="translate(532.3,318.5) rotate(-90)" font-size="6.2" font-weight="bold" fill="#f6f6f6" text-anchor="middle">SALES</text>
<rect x="797.8" y="337.6" width="16" height="2.6" fill="#3558a0"/>
<circle cx="805.8" cy="338.9" r="1.6" fill="#d6e0f5"/>
<text x="814.6" y="341.2" font-size="6.3" fill="#f6f6f6">Total</text>
<rect x="853.8" y="194.8" width="42" height="17.6" fill="none" stroke="#fff" stroke-width="1" opacity="0.6"/>
<rect x="857.6" y="198.5" width="34.6" height="10.2" fill="#fcebe2" stroke="#fff" stroke-width="1" stroke-opacity="0.7"/><rect x="856.2" y="197.1" width="37.4" height="13" fill="none" stroke="#17391d" stroke-width="2"/>
<rect x="890.6" y="207" width="5.8" height="5" fill="#fce4d6"/>
<rect x="891.4" y="207.6" width="4.6" height="4.2" fill="#17391d"/>
<g opacity="0.5"><circle cx="23.2" cy="431" r="21.8" fill="#fbeee6" stroke="#bdb4b4" stroke-width="1"/><circle cx="23.2" cy="431" r="20" fill="none" stroke="#cbcf78" stroke-width="2.8"/><path d="M10.2 420 Q16 420 22 417.2 Q28 420 35.6 420 Q36.5 432 23.8 440 Q10 432 10.2 420Z" fill="#c6c884"/><path d="M13.5 420.3 Q22 424 28 435.6 Q26 438.6 23.8 440 Q12.6 433 13.5 420.3Z" fill="#b9a8a6"/><rect x="12" y="443" width="22" height="1.2" fill="#d9c9bf"/></g>
<g opacity="0.51" fill="none" stroke="#c6c6c6" stroke-linecap="round" stroke-linejoin="round"><circle cx="547.3" cy="414" r="7.85" stroke-width="6.1"/><path d="M541 418.8 L454 418.8 Q444.6 418.8 444.6 411.5 L444.6 407.5" stroke-width="6.6"/><path d="M461.3 394 L461.3 418" stroke-width="6.2"/><path d="M531.6 418 V407.5 M524.8 418 V407.5 M518 418 V407.5 M511 418 V409.5 M500.2 418 V409.5" stroke-width="4.6"/><circle cx="481.8" cy="411.3" r="6.3" stroke-width="5.2"/><g fill="#c6c6c6" stroke="none"><circle cx="475.6" cy="394.4" r="3"/><circle cx="483.9" cy="394.4" r="3"/><circle cx="496" cy="401.8" r="2.9"/><circle cx="504.3" cy="401.8" r="2.9"/></g></g>
<text x="441" y="440.8" font-size="16.8" fill="#c6c6c6" stroke="#c6c6c6" stroke-width="0.55" opacity="0.51" textLength="117.2" lengthAdjust="spacingAndGlyphs">mostaql.com</text>
</svg>
</body></html>
